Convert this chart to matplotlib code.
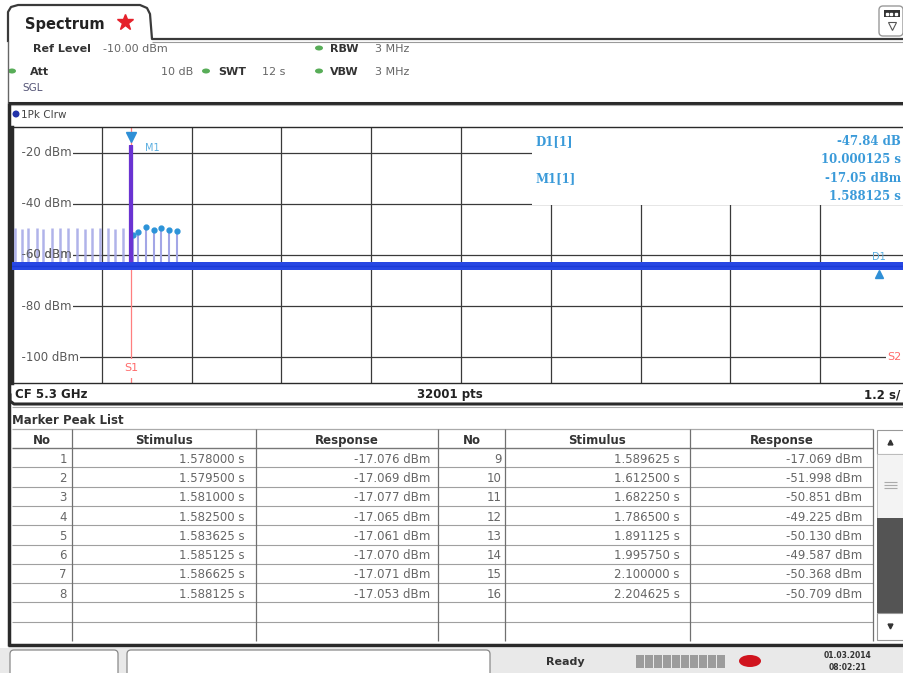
import matplotlib
matplotlib.use("Agg")
import matplotlib.pyplot as plt
from matplotlib.patches import FancyBboxPatch, Rectangle, Ellipse

W, H = 904, 673

# ---------------- data ----------------
x_limits = [0.0, 12.0]          # s  (1.2 s/div)
y_limits = [-110.0, -10.0]      # dBm
x_grid = [1.2, 2.4, 3.6, 4.8, 6.0, 7.2, 8.4, 9.6, 10.8]
y_grid = [-20, -40, -60, -80, -100]

noise_t = [0.0, 12.0]
noise_lo = [-66.0, -66.0]
noise_hi = [-62.8, -62.8]
noise_mid = [-64.4, -64.4]

left_spike_t = [0.04, 0.13, 0.21, 0.33, 0.41, 0.53, 0.64, 0.75, 0.87, 0.98, 1.07, 1.18, 1.28, 1.38, 1.48]
left_spike_db = [-49.5, -49.8, -49.6, -49.4, -49.7, -49.5, -49.6, -49.3, -49.5, -49.8, -49.4, -49.6, -49.5, -49.7, -49.6]

peak_no = [1, 2, 3, 4, 5, 6, 7, 8, 9, 10, 11, 12, 13, 14, 15, 16]
peak_stim = [1.578000, 1.579500, 1.581000, 1.582500, 1.583625, 1.585125, 1.586625, 1.588125,
             1.589625, 1.612500, 1.682250, 1.786500, 1.891125, 1.995750, 2.100000, 2.204625]
peak_resp = [-17.076, -17.069, -17.077, -17.065, -17.061, -17.070, -17.071, -17.053,
             -17.069, -51.998, -50.851, -49.225, -50.130, -49.587, -50.368, -50.709]

m1_t, m1_db = 1.588125, -17.05
d1_dt, d1_ddb = 10.000125, -47.84
s1_t = 1.592

# ---------------- figure ----------------
fig = plt.figure(figsize=(W / 100, H / 100), dpi=100)
fig.patch.set_facecolor("white")

# main trace axes (pixel box: x 12..910, y 127..383)
ax = fig.add_axes([12 / W, 1 - 383 / H, 898 / W, 256 / H])
ax.set_xlim(*x_limits)
ax.set_ylim(*y_limits)
ax.set_xticks(x_grid)
ax.set_yticks(y_grid)
ax.tick_params(length=0, labelleft=False, labelbottom=False)
ax.grid(True, color="#3a3a3a", lw=0.9, zorder=1)
ax.set_axisbelow(True)
for s in ["top", "bottom", "left", "right"]:
    ax.spines[s].set_color("#2a2a2a")
    ax.spines[s].set_linewidth(1.0)
ax.spines["left"].set_linewidth(2.5)

# white area behind marker info (covers grid)
ax.add_patch(Rectangle((6.95, -40.5), 5.2, 31, facecolor="white", edgecolor="none", zorder=1.5))

# y labels inside the plot
for v in y_grid:
    ax.text(0.03, v, f"  {v} dBm", ha="left", va="center", fontsize=8.5, color="#5a5a5a",
            bbox=dict(facecolor="white", edgecolor="none", pad=0.6), zorder=2)

# S1 line
ax.axvline(s1_t, color="#ff7f7f", lw=0.9, zorder=2.5)
ax.text(s1_t, -104.3, "S1", ha="center", va="center", fontsize=8, color="#ff6a6a",
        bbox=dict(facecolor="white", edgecolor="none", pad=3.0), zorder=2.6)
ax.text(11.70, -100, "S2", ha="left", va="center", fontsize=8, color="#ff6a6a",
        bbox=dict(facecolor="white", edgecolor="none", pad=1.0), zorder=2.6)

# spikes
ax.vlines(left_spike_t, -63, left_spike_db, color="#a3a6e6", lw=1.8, alpha=0.85, zorder=3)
ax.vlines(peak_stim[9:], -63, peak_resp[9:], color="#a3a6e6", lw=1.5, zorder=3)
ax.plot(peak_stim[9:], peak_resp[9:], "o", ms=3.5, color="#2c93d8", zorder=3.2)
ax.vlines(peak_stim[:9], -63, peak_resp[:9], color="#6a33d2", lw=2.2, zorder=3.4)

# label -60 dBm partly visible over the spikes (as in the reference)
ax.text(0.03, -60, "  -60 dBm", ha="left", va="center", fontsize=8.5, color="#5a5a5a",
        alpha=0.75, zorder=3.3)

# noise floor trace
ax.fill_between(noise_t, noise_lo, noise_hi, color="#2747e3", lw=0, zorder=4)
ax.plot(noise_t, noise_mid, color="#1c3bd6", lw=1.0, zorder=4.1)

# markers
ax.plot([m1_t], [m1_db + 3.0], marker="v", ms=7, color="#2f8fd6", zorder=5)
ax.text(1.78, -18.3, "M1", fontsize=7, color="#5aaee0", ha="left", va="center", zorder=5)
ax.plot([m1_t + d1_dt], [-67.6], marker="^", ms=6, color="#2f8fd6", zorder=5)
ax.text(m1_t + d1_dt, -60.8, "D1", fontsize=7, color="#5aaee0", ha="center", va="center", zorder=5)

# ---------------- overlay (pixel coordinates) ----------------
ov = fig.add_axes([0, 0, 1, 1], zorder=10)
ov.set_xlim(0, W)
ov.set_ylim(H, 0)
ov.axis("off")
ov.patch.set_alpha(0)

def hl(y, x0, x1, c="#333333", lw=1.0):
    ov.plot([x0, x1], [y, y], color=c, lw=lw, solid_capstyle="butt")

def vl(x, y0, y1, c="#333333", lw=1.0):
    ov.plot([x, x], [y0, y1], color=c, lw=lw, solid_capstyle="butt")

def tx(x, y, s, **kw):
    kw.setdefault("va", "center_baseline")
    ov.text(x, y, s, **kw)

# tab
ov.plot([8, 8, 11, 18, 140, 147, 150, 152, 904],
        [41, 12, 7, 5, 5, 8, 14, 39, 39], color="#3a3a3a", lw=1.6)
hl(41.5, 152, 904, "#9a9a9a", 0.8)
tx(25, 23, "Spectrum", fontsize=10.5, fontweight="bold", color="#222222")
ov.plot([125], [22], marker="*", ms=12, color="#e5212b")

# top right icon
ov.add_patch(FancyBboxPatch((879, 6), 24, 30, boxstyle="round,pad=0,rounding_size=4",
                            facecolor="white", edgecolor="#9a9a9a", lw=1))
ov.add_patch(Rectangle((884, 10), 16, 7, facecolor="#333333"))
for xx in [887, 891.5, 896]:
    ov.plot([xx], [13.5], "s", ms=1.5, color="white")
ov.plot([892], [26], marker="v", ms=6, mfc="white", mec="#555555", mew=0.8)

# header info
def dot(x, y):
    ov.add_patch(Ellipse((x, y), 8, 5, facecolor="#58ad58", edgecolor="none"))

tx(33, 48, "Ref Level", fontsize=8, fontweight="bold", color="#333333")
tx(103, 48, "-10.00 dBm", fontsize=8, color="#666666")
dot(319, 48)
tx(330, 48, "RBW", fontsize=8, fontweight="bold", color="#333333")
tx(375, 48, "3 MHz", fontsize=8, color="#666666")
dot(12, 71)
tx(30, 71, "Att", fontsize=8, fontweight="bold", color="#333333")
tx(193, 71, "10 dB", fontsize=8, color="#666666", ha="right")
dot(206, 71)
tx(218, 71, "SWT", fontsize=8, fontweight="bold", color="#333333")
tx(262, 71, "12 s", fontsize=8, color="#666666")
dot(319, 71)
tx(330, 71, "VBW", fontsize=8, fontweight="bold", color="#333333")
tx(375, 71, "3 MHz", fontsize=8, color="#666666")
tx(22, 87, "SGL", fontsize=7.5, color="#555577")

vl(8.5, 41, 103, "#666666", 1.0)
hl(102.5, 8, 904, "#2a2a2a", 2.2)
hl(105, 8, 904, "#aaaaaa", 0.8)
ov.add_patch(Ellipse((16, 114), 7, 7, facecolor="#2233aa", edgecolor="none"))
tx(21, 114.5, "1Pk Clrw", fontsize=7.5, color="#444444")

# left panel border
vl(9.5, 103, 646, "#2a2a2a", 2.5)

# marker info
info_kw = dict(fontsize=8.5, fontweight="bold", color="#3a9ad9", family="DejaVu Serif")
tx(535, 140, "D1[1]", **info_kw)
tx(535, 177, "M1[1]", **info_kw)
tx(901, 140, f"{d1_ddb:.2f} dB", ha="right", **info_kw)
tx(901, 158, f"{d1_dt:.6f} s", ha="right", **info_kw)
tx(901, 177, f"{m1_db:.2f} dBm", ha="right", **info_kw)
tx(901, 195, f"{m1_t:.6f} s", ha="right", **info_kw)

# bottom of the plot panel
tx(15, 393, "CF 5.3 GHz", fontsize=8.5, fontweight="bold", color="#222222")
tx(450, 393, "32001 pts", fontsize=8.5, fontweight="bold", color="#222222", ha="center")
tx(900, 393, "1.2 s/", fontsize=8.5, fontweight="bold", color="#222222", ha="right")
ov.plot([10, 10, 14, 904], [395, 401, 404, 404], color="#2a2a2a", lw=2.2)
hl(406.5, 12, 904, "#aaaaaa", 0.8)

# marker peak list
tx(12, 419, "Marker Peak List", fontsize=8.5, fontweight="bold", color="#333333")
row_top = 448.0
row_h = 19.3
n_rows = 10
tab_bottom = row_top + n_rows * row_h
hl(429, 12, 873, "#aaaaaa", 0.9)
hl(448, 12, 873, "#777777", 1.0)
for i in range(1, n_rows):
    hl(row_top + i * row_h, 12, 873, "#a0a0a0", 0.8)
for x in [72, 256, 438, 505, 690, 873]:
    vl(x, 429, tab_bottom, "#707070", 0.9)

cols_left = [(12, 72), (72, 256), (256, 438)]
cols_right = [(438, 505), (505, 690), (690, 873)]
for cols in (cols_left, cols_right):
    for (a, b), name in zip(cols, ["No", "Stimulus", "Response"]):
        tx((a + b) / 2, 439, name, fontsize=8.5, fontweight="bold", color="#333333", ha="center")

right_edges_left = [67, 245, 430]
right_edges_right = [502, 680, 862]
for i, (n, s, r) in enumerate(zip(peak_no, peak_stim, peak_resp)):
    edges = right_edges_left if i < 8 else right_edges_right
    yc = row_top + (i % 8 + 0.5) * row_h
    tx(edges[0], yc, f"{n}", fontsize=8.5, color="#666666", ha="right")
    tx(edges[1], yc, f"{s:.6f} s", fontsize=8.5, color="#666666", ha="right")
    tx(edges[2], yc, f"{r:.3f} dBm", fontsize=8.5, color="#666666", ha="right")

# scroll bar
ov.add_patch(Rectangle((877, 430), 27, 24, facecolor="white", edgecolor="#999999", lw=0.8))
ov.plot([890.5], [442], marker="^", ms=3.5, color="#333333")
ov.add_patch(Rectangle((877, 454), 27, 64, facecolor="#f3f3f3", edgecolor="#bbbbbb", lw=0.6))
for yy in [482, 485, 488]:
    hl(yy, 884, 897, "#aaaaaa", 0.8)
ov.add_patch(Rectangle((877, 518), 27, 95, facecolor="#545454", edgecolor="none"))
ov.add_patch(Rectangle((877, 613), 27, 27, facecolor="white", edgecolor="#999999", lw=0.8))
ov.plot([890.5], [626], marker="v", ms=3.5, color="#333333")

hl(645, 8, 904, "#2a2a2a", 2.5)

# status bar
ov.add_patch(Rectangle((0, 647.5), W, 26, facecolor="#e9e9e9", edgecolor="none", zorder=0))
ov.add_patch(FancyBboxPatch((10, 650), 108, 30, boxstyle="round,pad=0,rounding_size=4",
                            facecolor="white", edgecolor="#8a8a8a", lw=0.9))
ov.add_patch(FancyBboxPatch((127, 650), 363, 30, boxstyle="round,pad=0,rounding_size=4",
                            facecolor="white", edgecolor="#8a8a8a", lw=0.9))
tx(565, 661, "Ready", fontsize=8, fontweight="bold", color="#333333", ha="center")
for k in range(10):
    ov.add_patch(Rectangle((636 + k * 9, 655), 8, 13, facecolor="#9c9c9c", edgecolor="none"))
ov.add_patch(Ellipse((750, 661), 22, 12, facecolor="#d0141e", edgecolor="none"))
tx(848, 655, "01.03.2014", fontsize=5.5, fontweight="bold", color="#333333", ha="center")
tx(848, 667, "08:02:21", fontsize=5.5, fontweight="bold", color="#333333", ha="center")

fig.savefig("out.png", dpi=100, facecolor="white")
